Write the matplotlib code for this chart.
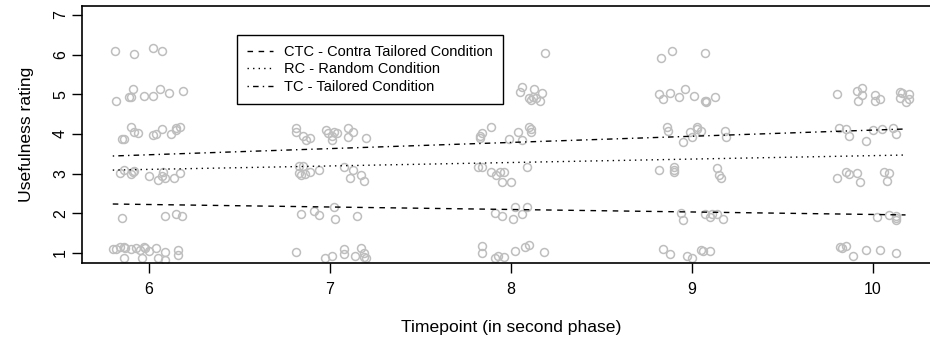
import matplotlib
matplotlib.use("Agg")
import matplotlib.pyplot as plt

# jittered ratings, one pair of lists per timepoint
t6_x = [5.81, 5.92, 6.02, 6.07,
        5.82, 5.89, 5.90, 5.91, 5.97, 6.02, 6.06, 6.11, 6.19,
        5.85, 5.86, 5.90, 5.92, 5.94, 6.02, 6.04, 6.07, 6.12, 6.15, 6.17, 6.15,
        5.84, 5.86, 5.90, 5.92, 6.00, 6.05, 6.07, 6.08, 6.09, 6.14, 6.17, 5.91,
        5.85, 6.09, 6.15, 6.18,
        5.80, 5.82, 5.84, 5.86, 5.87, 5.90, 5.93, 5.95, 5.97, 5.98, 6.00, 6.04,
        6.09, 6.16, 5.86, 5.96, 6.05, 6.09, 6.16]
t6_y = [6.10, 6.02, 6.16, 6.10,
        4.84, 4.92, 4.94, 5.13, 4.97, 4.97, 5.14, 5.03, 5.08,
        3.87, 3.87, 4.17, 4.06, 4.03, 3.97, 4.00, 4.13, 3.99, 4.16, 4.17, 4.11,
        3.02, 3.09, 2.99, 3.07, 2.95, 2.84, 2.93, 3.05, 2.88, 2.88, 3.02, 3.05,
        1.89, 1.94, 1.99, 1.94,
        1.09, 1.10, 1.14, 1.16, 1.12, 1.09, 1.12, 1.08, 1.16, 1.12, 1.06, 1.12,
        1.03, 1.08, 0.87, 0.87, 0.87, 0.82, 0.95]

t7_x = [6.81, 6.81, 6.85, 6.87, 6.89, 6.98, 6.99, 7.01, 7.02, 7.04, 7.01, 7.10,
        7.10, 7.13, 7.20,
        6.83, 6.85, 6.84, 6.86, 6.89, 6.94, 7.08, 7.13, 7.11, 7.17, 7.19, 6.83,
        6.84, 6.91, 6.94, 7.02, 7.03, 7.15,
        6.81, 6.97, 7.01, 7.08, 7.08, 7.14, 7.17, 7.19, 7.20, 7.19]
t7_y = [4.14, 4.06, 3.95, 3.85, 3.89, 4.10, 4.02, 3.95, 4.06, 4.02, 3.85, 4.16,
        3.92, 4.06, 3.89,
        3.19, 3.19, 2.97, 2.99, 3.05, 3.08, 3.16, 3.09, 2.88, 2.97, 2.82, 3.01,
        1.98, 2.06, 1.96, 2.17, 1.86, 1.94,
        1.03, 0.87, 0.93, 1.10, 0.97, 0.92, 1.12, 1.01, 0.87, 0.91]

t8_x = [8.19,
        8.06, 8.05, 8.10, 8.13, 8.12, 8.14, 8.17, 8.16, 8.11,
        7.83, 7.84, 7.89, 7.99, 8.04, 8.06, 8.10, 8.11, 8.11, 7.83,
        7.82, 7.84, 7.89, 7.92, 7.94, 7.96, 7.95, 8.00, 8.09,
        7.91, 7.95, 8.01, 8.02, 8.06, 8.09,
        7.84, 7.84, 7.91, 7.93, 7.96, 8.02, 8.08, 8.10, 8.18]
t8_y = [6.05,
        5.18, 5.07, 4.90, 5.13, 4.94, 4.90, 5.04, 4.83, 4.86,
        3.89, 4.02, 4.17, 3.87, 4.04, 3.85, 4.17, 4.06, 4.12, 3.95,
        3.18, 3.18, 3.05, 2.97, 3.05, 3.05, 2.80, 2.80, 3.16,
        2.00, 1.94, 1.85, 2.15, 1.98, 2.15,
        1.18, 0.99, 0.87, 0.92, 0.91, 1.06, 1.14, 1.20, 1.03]

t9_x = [8.83, 8.89, 9.07,
        8.82, 8.84, 8.88, 8.93, 8.96, 9.01, 9.07, 9.08, 9.08, 9.13,
        8.86, 8.87, 8.95, 8.99, 9.00, 9.03, 9.03, 9.05, 9.18, 9.19,
        8.82, 8.90, 8.90, 8.90, 9.14, 9.15, 9.16,
        8.94, 8.95, 9.07, 9.10, 9.11, 9.14, 9.17,
        8.84, 8.88, 8.97, 9.00, 9.05, 9.06, 9.10]
t9_y = [5.92, 6.09, 6.05,
        5.00, 4.88, 5.03, 4.94, 5.13, 4.97, 4.82, 4.80, 4.84, 4.92,
        4.18, 4.08, 3.81, 4.06, 3.92, 4.17, 4.12, 4.08, 4.08, 3.92,
        3.09, 3.16, 3.09, 3.05, 3.13, 2.97, 2.88,
        2.00, 1.83, 1.98, 1.90, 1.98, 1.98, 1.85,
        1.09, 0.97, 0.93, 0.87, 1.08, 1.05, 1.06]

t10_x = [9.80, 9.91, 9.94, 9.94, 9.92, 10.01, 10.01, 10.04, 10.15, 10.16, 10.20,
         10.15, 10.18, 10.20,
         9.81, 9.85, 9.87, 9.96, 10.00, 10.05, 10.11, 10.13,
         9.80, 9.85, 9.87, 9.91, 9.93, 10.06, 10.09, 10.08,
         10.02, 10.09, 10.13, 10.13, 10.13,
         9.82, 9.83, 9.85, 9.89, 9.96, 10.04, 10.13]
t10_y = [5.00, 5.09, 5.15, 4.98, 4.84, 4.98, 4.84, 4.88, 5.07, 5.03, 5.01,
         4.90, 4.81, 4.87,
         4.16, 4.12, 3.95, 3.82, 4.10, 4.13, 4.14, 4.00,
         2.88, 3.05, 2.99, 3.02, 2.80, 3.05, 3.02, 2.82,
         1.90, 1.96, 1.94, 1.83, 1.87,
         1.16, 1.12, 1.18, 0.92, 1.08, 1.08, 0.99]

# fitted lines per condition (value at both ends of the jittered range)
fit_x = [5.80, 10.18]
ctc_fit = [2.235, 1.96]
rc_fit = [3.09, 3.47]
tc_fit = [3.445, 4.126]

conditions = ["CTC - Contra Tailored Condition", "RC - Random Condition",
              "TC - Tailored Condition"]
timepoints = [6, 7, 8, 9, 10]
ratings = [1, 2, 3, 4, 5, 6, 7]

plt.rcParams["font.family"] = ["Liberation Sans", "DejaVu Sans"]

fig = plt.figure(figsize=(9.3, 3.37), dpi=100)
# right edge of the box runs past the picture, as in the original
ax = fig.add_axes([82 / 930, 74 / 337, 859 / 930, 257 / 337])

xs = t6_x + t7_x + t8_x + t9_x + t10_x
ys = t6_y + t7_y + t8_y + t9_y + t10_y
ax.plot(xs, ys, linestyle="none", marker="o", markersize=5.7,
        markerfacecolor="none", markeredgecolor="#bebebe", markeredgewidth=1.1)

ax.plot(fit_x, ctc_fit, color="black", lw=1.0, linestyle=(0, (4, 4)),
        label=conditions[0])
ax.plot(fit_x, rc_fit, color="black", lw=1.0, linestyle=(0, (1, 3)),
        label=conditions[1])
ax.plot(fit_x, tc_fit, color="black", lw=1.0, linestyle=(0, (1, 3, 4, 3)),
        label=conditions[2])

ax.set_xlim(5.630, 10.376)
ax.set_ylim(0.748, 7.226)
ax.set_xticks(timepoints)
ax.set_yticks(ratings)
ax.set_yticklabels([str(r) for r in ratings], rotation=90, va="center")
ax.tick_params(direction="out", length=7, width=1, labelsize=11.5)
ax.tick_params(axis="x", pad=7)
ax.tick_params(axis="y", pad=3)
for sp in ax.spines.values():
    sp.set_linewidth(1.2)

ax.set_xlabel("Timepoint (in second phase)", fontsize=12.6, labelpad=16)
ax.set_ylabel("Usefulness rating", fontsize=12.6, labelpad=14)

leg = ax.legend(loc="upper left", bbox_to_anchor=(0.1804, 0.887),
                fontsize=10.5, frameon=True, fancybox=False, handlelength=1.8,
                handletextpad=0.72, borderpad=0.7, labelspacing=0.22,
                borderaxespad=0, framealpha=1)
leg.get_frame().set_edgecolor("black")
leg.get_frame().set_linewidth(1.0)

fig.savefig("out.png", dpi=100)
